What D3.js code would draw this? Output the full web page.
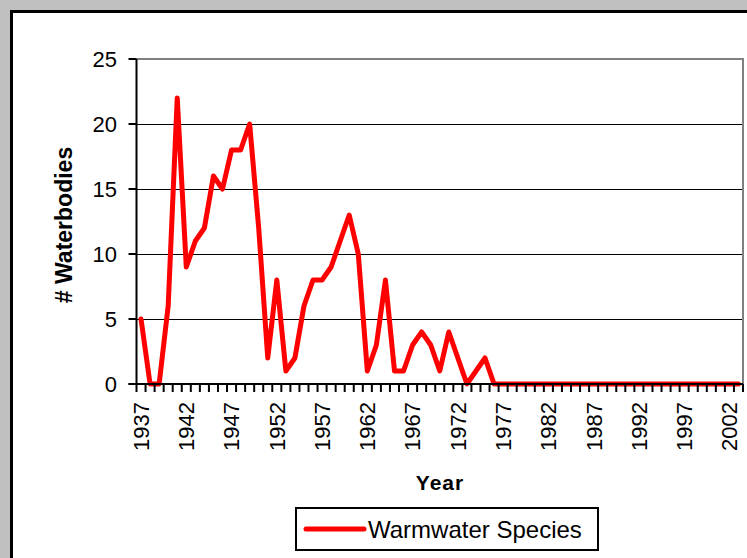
<!DOCTYPE html>
<html><head><meta charset="utf-8">
<script src="https://cdn.jsdelivr.net/npm/d3@7"></script>
<style>html,body{margin:0;padding:0;background:#c0c0c0;overflow:hidden}</style>
</head><body><svg id="c" width="747" height="558"></svg>
<script>
const years = [1937,1938,1939,1940,1941,1942,1943,1944,1945,1946,1947,1948,1949,1950,
  1951,1952,1953,1954,1955,1956,1957,1958,1959,1960,1961,1962,1963,1964,1965,1966,
  1967,1968,1969,1970,1971,1972,1973,1974,1975,1976,1977,1978,1979,1980,1981,1982,
  1983,1984,1985,1986,1987,1988,1989,1990,1991,1992,1993,1994,1995,1996,1997,1998,
  1999,2000,2001,2002,2003];
const warmwater = [5,0,0,6,22,9,11,12,16,15,18,18,20,12,2,8,1,2,6,8,8,9,11,13,10,1,3,8,1,1,
  3,4,3,1,4,2,0,1,2,0,0,0,0,0,0,0,0,0,0,0,0,0,0,0,0,0,0,0,0,0,0,0,0,0,0,0,0];
const yTicks = [0,5,10,15,20,25];
const xLabels = [1937,1942,1947,1952,1957,1962,1967,1972,1977,1982,1987,1992,1997,2002];
const seriesName = "Warmwater Species";
const yTitle = "# Waterbodies";
const xTitle = "Year";

const FONT = "'Liberation Sans', Arial, sans-serif";
const svg = d3.select("#c");
const L = 136.5, R = 743, T = 59, B = 384;

// panel
svg.append("rect").attr("x",11.5).attr("y",11.5).attr("width",800).attr("height",600)
  .attr("fill","#fff").attr("stroke","#000").attr("stroke-width",3);

const x = d3.scaleBand().domain(years).range([L, R]).paddingInner(0).paddingOuter(0);
const y = d3.scaleLinear().domain([0,25]).range([B, T]);
const cx = d => x(d) + x.bandwidth()/2;

// gridlines
svg.append("g").selectAll("line").data(yTicks.filter(v=>v>0 && v<25)).join("line")
  .attr("x1",L).attr("x2",R).attr("y1",d=>Math.round(y(d))+0.5).attr("y2",d=>Math.round(y(d))+0.5)
  .attr("stroke","#000").attr("stroke-width",1).attr("shape-rendering","crispEdges");
// plot border top/right gray
svg.append("path").attr("d",`M${L},${y(25)}H${R}V${B}`).attr("fill","none")
  .attr("stroke","#808080").attr("stroke-width",2);

// line
svg.append("path").datum(warmwater)
  .attr("d", d3.line().x((d,i)=>cx(years[i])).y(d=>y(d)))
  .attr("fill","none").attr("stroke","#ff0000").attr("stroke-width",5)
  .attr("stroke-linejoin","round").attr("stroke-linecap","round");

// y axis
const yAxis = svg.append("g");
yAxis.append("line").attr("x1",L).attr("x2",L).attr("y1",T).attr("y2",B+1)
  .attr("stroke","#000").attr("stroke-width",2);
yAxis.selectAll("line.t").data(yTicks).join("line").attr("class","t")
  .attr("x1",L-8).attr("x2",L).attr("y1",d=>y(d)).attr("y2",d=>y(d))
  .attr("stroke","#000").attr("stroke-width",2);
yAxis.selectAll("text").data(yTicks).join("text")
  .attr("x",117).attr("y",d=>y(d)+7.9).attr("text-anchor","end")
  .attr("font-family",FONT).attr("font-size",22).attr("fill","#000").text(d=>d);

// x axis
const xAxis = svg.append("g");
xAxis.append("line").attr("x1",L-8).attr("x2",R).attr("y1",B).attr("y2",B)
  .attr("stroke","#000").attr("stroke-width",2);
const edges = years.map(d=>x(d)).concat([R]);
xAxis.selectAll("line.t").data(edges).join("line").attr("class","t")
  .attr("x1",d=>d).attr("x2",d=>d).attr("y1",B).attr("y2",B+8)
  .attr("stroke","#000").attr("stroke-width",2);
xAxis.selectAll("text").data(xLabels).join("text")
  .attr("transform",d=>`translate(${cx(d)+7.9},402) rotate(-90)`)
  .attr("text-anchor","end").attr("font-family",FONT).attr("font-size",22)
  .attr("fill","#000").text(d=>d);

// titles
svg.append("text").attr("transform","translate(72,225) rotate(-90)")
  .attr("text-anchor","middle").attr("font-family",FONT).attr("font-weight","bold")
  .attr("font-size",23).text(yTitle);
svg.append("text").attr("x",440).attr("y",490).attr("text-anchor","middle")
  .attr("font-family",FONT).attr("font-weight","bold").attr("font-size",21)
  .attr("letter-spacing",1).text(xTitle);

// legend
const lg = svg.append("g");
lg.append("rect").attr("x",296).attr("y",508).attr("width",302).attr("height",42)
  .attr("fill","#fff").attr("stroke","#000").attr("stroke-width",2);
lg.append("line").attr("x1",306).attr("x2",364).attr("y1",529).attr("y2",529)
  .attr("stroke","#ff0000").attr("stroke-width",5).attr("stroke-linecap","round");
lg.append("text").attr("x",368).attr("y",538).attr("font-family",FONT)
  .attr("font-size",24).attr("fill","#000").text(seriesName);
</script></body></html>
